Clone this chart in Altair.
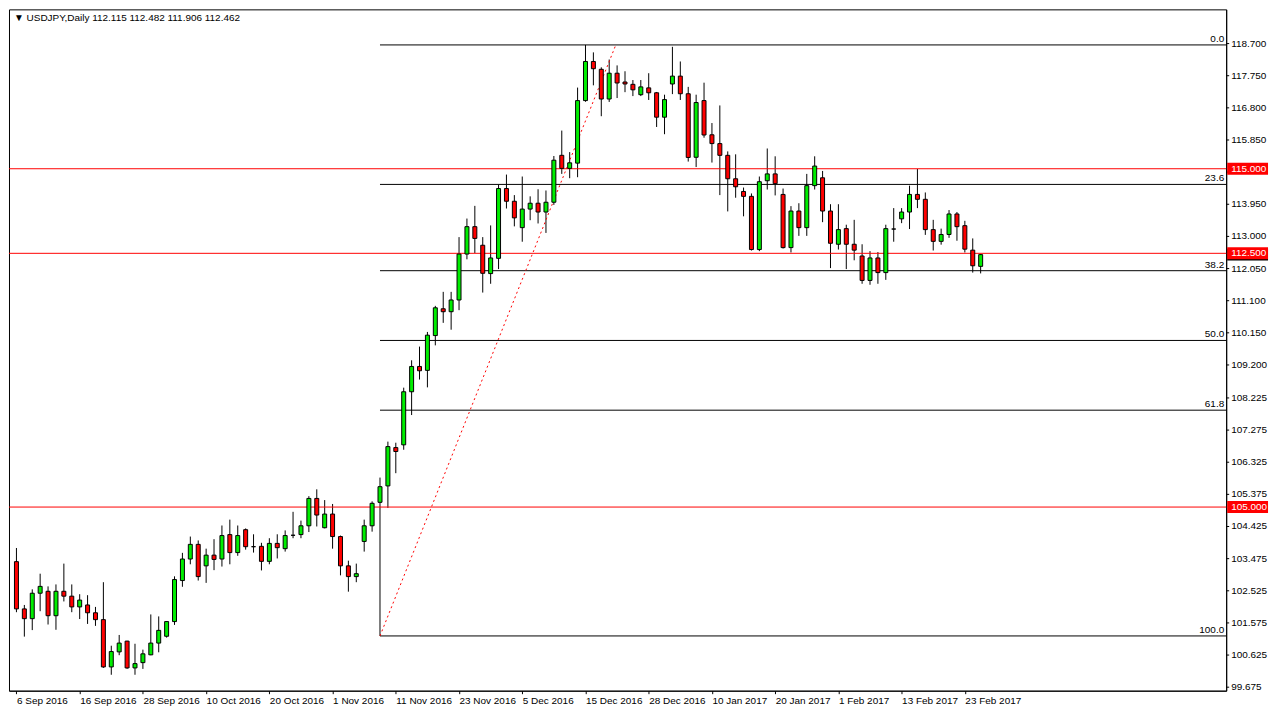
import json
import altair as alt
import pandas as pd

# ---------------- data ----------------
opens = [
    103.386, 101.990, 101.701, 102.453, 102.510, 101.788, 102.510, 102.366, 102.048, 102.106,
    101.875, 101.672, 100.274, 100.719, 101.037, 100.245, 100.401, 100.632, 100.979, 101.181,
    101.615, 102.828, 103.464, 103.897, 103.262, 103.579, 103.464, 104.186, 103.654, 104.331,
    103.828, 103.839, 103.395, 103.926, 103.770, 104.166, 104.186, 104.446, 105.255, 104.389,
    104.793, 104.128, 103.262, 102.944, 103.984, 104.446, 105.140, 105.625, 106.758, 106.839,
    108.408, 109.156, 109.041, 110.069, 110.861, 110.774, 111.121, 112.479, 113.288, 112.739,
    111.901, 112.352, 114.415, 114.039, 113.259, 113.808, 113.981, 113.721, 114.010, 115.397,
    115.010, 115.166, 117.015, 118.171, 117.940, 117.061, 117.824, 117.564, 117.495, 117.189,
    117.391, 117.246, 116.524, 117.506, 117.738, 117.217, 115.339, 117.015, 116.004, 115.744,
    115.397, 114.704, 114.328, 114.184, 112.612, 114.646, 114.848, 114.241, 112.669, 113.750,
    113.259, 114.501, 114.733, 113.750, 112.768, 113.230, 112.768, 112.421, 111.699, 112.363,
    111.930, 113.218, 113.519, 113.721, 114.241, 114.097, 113.201, 112.854, 113.057, 113.663,
    113.317, 112.594, 112.115,
]
highs = [
    103.790, 102.106, 102.568, 103.030, 102.655, 102.713, 103.328, 102.713, 102.424, 102.395,
    102.048, 102.779, 100.901, 101.219, 101.046, 100.959, 100.785, 101.826, 101.768, 101.624,
    102.952, 103.646, 104.128, 104.013, 103.770, 104.051, 104.455, 104.628, 104.455, 104.368,
    104.195, 103.943, 104.079, 104.195, 104.310, 104.859, 104.599, 105.322, 105.524, 105.206,
    105.091, 104.157, 103.415, 103.328, 104.628, 105.168, 105.871, 106.934, 106.902, 108.529,
    109.338, 109.743, 110.176, 110.947, 111.361, 111.361, 112.979, 113.528, 113.903, 112.979,
    113.325, 114.530, 114.828, 114.221, 114.770, 114.184, 114.394, 114.357, 115.377, 116.128,
    115.492, 117.399, 118.660, 118.440, 117.998, 118.229, 118.055, 117.882, 117.622, 117.622,
    117.824, 117.270, 117.189, 118.604, 118.171, 117.420, 117.189, 117.544, 116.351, 116.871,
    115.513, 115.426, 114.444, 114.270, 114.770, 115.599, 115.368, 114.415, 113.895, 113.981,
    114.848, 115.368, 114.935, 113.952, 113.952, 113.346, 113.490, 112.768, 112.565, 112.537,
    113.346, 113.837, 113.837, 114.501, 114.993, 114.299, 113.490, 113.230, 113.779, 113.721,
    113.461, 112.941, 112.482,
]
lows = [
    101.892, 101.170, 101.363, 101.921, 101.528, 101.372, 102.210, 101.892, 101.690, 101.545,
    101.488, 100.245, 100.043, 100.621, 100.216, 100.043, 100.216, 100.621, 100.707, 101.141,
    101.516, 102.643, 103.308, 102.828, 102.759, 103.135, 103.241, 103.308, 103.559, 103.741,
    103.654, 103.126, 103.308, 103.481, 103.683, 104.079, 104.079, 104.261, 104.426, 104.370,
    103.770, 102.981, 102.499, 102.779, 103.683, 104.273, 101.190, 104.975, 106.001, 106.694,
    107.720, 108.769, 108.538, 109.780, 110.445, 110.242, 110.820, 112.323, 112.508, 111.340,
    111.600, 112.034, 113.825, 113.297, 112.843, 113.479, 113.383, 113.103, 113.932, 114.848,
    114.721, 114.750, 116.980, 117.466, 116.553, 116.975, 117.090, 117.264, 117.148, 117.148,
    117.033, 116.235, 116.021, 117.206, 117.033, 115.212, 115.050, 115.917, 115.183, 114.221,
    113.739, 114.143, 113.594, 112.583, 112.565, 114.386, 114.212, 112.641, 112.525, 113.016,
    113.016, 114.386, 113.421, 112.063, 112.612, 112.034, 112.294, 111.600, 111.571, 111.600,
    111.716, 112.843, 113.392, 113.218, 113.837, 113.045, 112.583, 112.756, 112.958, 112.872,
    112.525, 111.930, 111.906,
]
closes = [
    101.990, 101.701, 102.453, 102.655, 101.788, 102.510, 102.366, 102.048, 102.250, 101.875,
    101.672, 100.274, 100.728, 100.979, 100.245, 100.372, 100.661, 100.979, 101.355, 101.615,
    102.857, 103.464, 103.897, 102.944, 103.579, 103.452, 104.157, 103.654, 104.157, 103.828,
    103.828, 103.395, 103.926, 103.799, 104.157, 104.166, 104.446, 105.255, 104.764, 104.793,
    104.128, 103.262, 102.944, 103.030, 104.446, 105.111, 105.602, 106.787, 106.642, 108.408,
    109.156, 109.029, 110.081, 110.890, 110.774, 111.121, 112.479, 113.288, 112.941, 111.910,
    112.363, 114.415, 114.039, 113.548, 113.808, 113.981, 113.721, 114.010, 115.253, 115.010,
    115.175, 117.015, 118.171, 117.957, 117.061, 117.824, 117.535, 117.506, 117.333, 117.420,
    117.246, 116.524, 117.044, 117.738, 117.217, 115.334, 116.957, 115.998, 115.744, 115.397,
    114.704, 114.467, 114.184, 112.612, 114.617, 114.848, 114.559, 112.669, 113.750, 113.259,
    114.501, 115.079, 113.750, 112.797, 113.201, 112.768, 112.594, 111.699, 112.363, 111.930,
    113.230, 113.218, 113.721, 114.241, 114.097, 113.201, 112.854, 113.057, 113.663, 113.288,
    112.623, 112.132, 112.462,
]

date_labels = [
    "6 Sep 2016", "16 Sep 2016", "28 Sep 2016", "10 Oct 2016", "20 Oct 2016",
    "1 Nov 2016", "11 Nov 2016", "23 Nov 2016", "5 Dec 2016", "15 Dec 2016",
    "28 Dec 2016", "10 Jan 2017", "20 Jan 2017", "1 Feb 2017", "13 Feb 2017",
    "23 Feb 2017",
]
bars_per_label = 8

price_ticks = [99.675, 100.625, 101.575, 102.525, 103.475, 104.425, 105.375,
               106.325, 107.275, 108.225, 109.200, 110.150, 111.100, 112.050,
               113.000, 113.950, 114.900, 115.850, 116.800, 117.750, 118.700]
hidden_tick = 114.900   # covered by the 115.000 tag in the reference

hline_levels = [115.0, 112.5, 105.0]

fib_low, fib_high = 101.19, 118.66
fib_ratios = [0.0, 23.6, 38.2, 50.0, 61.8, 100.0]
fib_start_bar = 46
trend_bars = [46, 75.75]
trend_prices = [101.19, 118.61]

title_text = "\u25bc USDJPY,Daily  112.115 112.482 111.906 112.462"
last_price = 112.462

# ---------------- layout ----------------
W, H = 1222, 684
X0 = -0.3125
X1 = X0 + W / 8.0
Y0, Y1 = 99.572, 119.711
FONT = "Liberation Sans"
RED = "#ff0000"
GREEN = "#00ee00"

n = len(opens)
df = pd.DataFrame({
    "i": list(range(n)),
    "open": opens, "high": highs, "low": lows, "close": closes,
})
df["dir"] = ["up" if c > o else ("down" if c < o else "doji") for o, c in zip(opens, closes)]

xs = alt.Scale(domain=[X0, X1], nice=False, zero=False)
ys = alt.Scale(domain=[Y0, Y1], nice=False, zero=False)

x_label_expr = json.dumps(date_labels) + "[round(datum.value/%d)]" % bars_per_label

x_axis = alt.Axis(values=[k * bars_per_label for k in range(len(date_labels))],
                  labelExpr=x_label_expr, labelAlign="left", labelPadding=2,
                  tickSize=3, labelOverlap=False, labelFlush=False, grid=False,
                  title=None)
y_axis = alt.Axis(orient="right", ticks=False, labels=False, grid=False, title=None)

wicks = alt.Chart(df).mark_rule(color="black", strokeWidth=1).encode(
    x=alt.X("i:Q", scale=xs, axis=x_axis),
    y=alt.Y("low:Q", scale=ys, axis=y_axis),
    y2="high:Q",
)

bodies = alt.Chart(df).mark_bar(width=4, stroke="black", strokeWidth=1).encode(
    x=alt.X("i:Q", scale=xs),
    y=alt.Y("open:Q", scale=ys),
    y2="close:Q",
    color=alt.Color("dir:N", scale=alt.Scale(domain=["up", "down", "doji"],
                                             range=[GREEN, RED, "#000000"]), legend=None),
)

# price scale ticks and labels on the right
tick_df = pd.DataFrame({
    "p": price_ticks,
    "label": ["" if abs(v - hidden_tick) < 1e-6 else "%.3f" % v for v in price_ticks],
})
y_ticks = alt.Chart(tick_df).mark_rule(color="black", strokeWidth=1).encode(
    x=alt.value(W), x2=alt.value(W + 3), y=alt.Y("p:Q", scale=ys))
y_labels = alt.Chart(tick_df).mark_text(align="left", baseline="middle", font=FONT,
                                        fontSize=10, color="black").encode(
    x=alt.value(W + 5), y=alt.Y("p:Q", scale=ys), text="label:N")

hl_df = pd.DataFrame({"p": hline_levels})
hlines = alt.Chart(hl_df).mark_rule(color=RED, strokeWidth=1).encode(
    y=alt.Y("p:Q", scale=ys))

fib_df = pd.DataFrame({
    "r": fib_ratios,
    "p": [fib_high - r / 100.0 * (fib_high - fib_low) for r in fib_ratios],
    "start": [fib_start_bar] * len(fib_ratios),
    "label": ["%.1f" % r for r in fib_ratios],
})
fib_lines = alt.Chart(fib_df).mark_rule(color="black", strokeWidth=1).encode(
    x=alt.X("start:Q", scale=xs), x2=alt.value(W),
    y=alt.Y("p:Q", scale=ys))
fib_text = alt.Chart(fib_df).mark_text(align="right", baseline="bottom", dy=-1,
                                       font=FONT, fontSize=10, color="black").encode(
    x=alt.value(W - 2), y=alt.Y("p:Q", scale=ys), text="label:N")

trend_df = pd.DataFrame({"i": trend_bars, "p": trend_prices})
trend = alt.Chart(trend_df).mark_line(color=RED, strokeWidth=1, strokeDash=[2, 3]).encode(
    x=alt.X("i:Q", scale=xs), y=alt.Y("p:Q", scale=ys))

tag_df = pd.DataFrame({
    "p": [last_price] + hline_levels,
    "label": [""] + ["%.3f" % v for v in hline_levels],
    "bg": ["black"] + [RED] * len(hline_levels),
})
tag_box = alt.Chart(tag_df).mark_rule(strokeWidth=12, strokeCap="butt").encode(
    x=alt.value(W + 1), x2=alt.value(W + 42),
    y=alt.Y("p:Q", scale=ys),
    color=alt.Color("bg:N", scale=None))
tag_text = alt.Chart(tag_df).mark_text(align="left", baseline="middle", font=FONT,
                                       fontSize=10, color="white").encode(
    x=alt.value(W + 5), y=alt.Y("p:Q", scale=ys), text="label:N")

title_df = pd.DataFrame({"t": [title_text]})
title = alt.Chart(title_df).mark_text(align="left", baseline="middle", font=FONT,
                                      fontSize=10, color="black").encode(
    x=alt.value(5), y=alt.value(9), text="t:N")

chart = alt.layer(
    wicks, hlines, fib_lines, trend, bodies, fib_text, y_ticks, y_labels,
    tag_box, tag_text, title
).properties(
    width=W, height=H, padding=0, background="white"
).configure_view(
    stroke="black", strokeWidth=1
).configure_axis(
    labelOverlap=False, labelFlush=False, domainColor="black", tickColor="black",
    labelColor="black", labelFont=FONT, labelFontSize=10
)

chart.save("out.html", embed_options={"renderer": "svg", "actions": False})
